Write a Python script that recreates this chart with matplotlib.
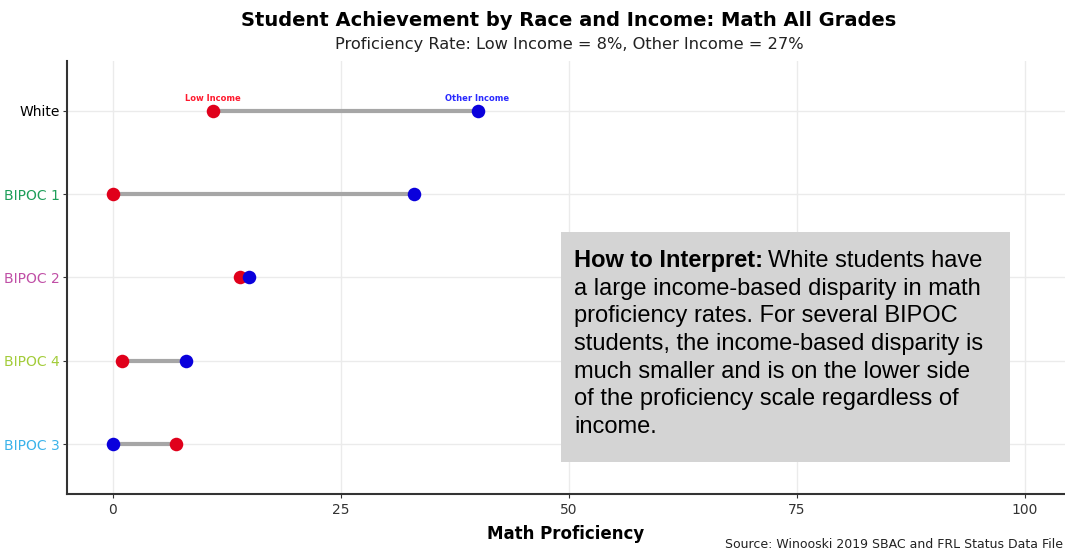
import matplotlib
matplotlib.use("Agg")
import matplotlib.pyplot as plt

categories = ["White", "BIPOC 1", "BIPOC 2", "BIPOC 4", "BIPOC 3"]
low_income = [11, 0, 14, 1, 7]
other_income = [40, 33, 15, 8, 0]
label_colors = ["#000000", "#1e9e5a", "#c04fa6", "#a3cc3a", "#3bb3ea"]
x_ticks = [0, 25, 50, 75, 100]

title = "Student Achievement by Race and Income: Math All Grades"
subtitle = "Proficiency Rate: Low Income = 8%, Other Income = 27%"
xlabel = "Math Proficiency"
source = "Source: Winooski 2019 SBAC and FRL Status Data File"
note_bold = "How to Interpret:"
note_lines = ["White students have",
              "a large income-based disparity in math",
              "proficiency rates. For several BIPOC",
              "students, the income-based disparity is",
              "much smaller and is on the lower side",
              "of the proficiency scale regardless of",
              "income."]

W, H = 1065, 552
fig = plt.figure(figsize=(W / 100, H / 100), dpi=100)
ax = fig.add_axes([67 / W, 1 - 494 / H, (1065 - 67) / W, (494 - 61) / H])

n = len(categories)
ypos = list(range(n, 0, -1))

ax.set_xlim(-5, 104.4)
ax.set_ylim(0.4, n + 0.6)
ax.set_xticks(x_ticks)
ax.set_yticks(ypos)
ax.set_yticklabels(categories)
ax.grid(True, color="#ebebeb", linewidth=1.0)
ax.set_axisbelow(True)
for s in ["top", "right"]:
    ax.spines[s].set_visible(False)
for s in ["left", "bottom"]:
    ax.spines[s].set_color("#333333")
    ax.spines[s].set_linewidth(1.5)
ax.tick_params(axis="both", length=3, color="#333333", labelsize=10, labelcolor="#333333")
ax.tick_params(axis="y", pad=2)
for t, c in zip(ax.get_yticklabels(), label_colors):
    t.set_color(c)

for y, lo, hi in zip(ypos, low_income, other_income):
    ax.plot([lo, hi], [y, y], color="#a6a6a6", linewidth=3, solid_capstyle="butt", zorder=2)
ax.scatter(low_income, ypos, s=95, color="#e0001b", zorder=3, linewidths=0)
ax.scatter(other_income, ypos, s=95, color="#0a00dc", zorder=4, linewidths=0)

ax.annotate("Low Income", (low_income[0], ypos[0]), xytext=(0, 6), textcoords="offset points",
            ha="center", va="bottom", fontsize=6, fontweight="bold", color="#ff1a2e")
ax.annotate("Other Income", (other_income[0], ypos[0]), xytext=(0, 6), textcoords="offset points",
            ha="center", va="bottom", fontsize=6, fontweight="bold", color="#2a2aff")

ax.set_xlabel(xlabel, fontsize=12, fontweight="bold", labelpad=6)

fig.text(569 / W, 1 - 20 / H, title, ha="center", va="center", fontsize=14, fontweight="bold")
fig.text(569 / W, 1 - 45 / H, subtitle, ha="center", va="center", fontsize=11.7, color="#222222")
fig.text(1063 / W, 1 - 544 / H, source, ha="right", va="center", fontsize=9, color="#222222")

# interpretation box
bx0, by0, bx1, by1 = 561, 232, 1010, 462
box = plt.Rectangle((bx0 / W, 1 - by1 / H), (bx1 - bx0) / W, (by1 - by0) / H,
                    transform=fig.transFigure, facecolor="#d4d4d4", edgecolor="none", zorder=5)
fig.patches.append(box)
font = "Liberation Sans"
fs = 17
base0 = 267
step = 27.7
tb = fig.text(574 / W, 1 - base0 / H, note_bold, ha="left", va="baseline", fontsize=fs,
              fontweight="bold", family=font, zorder=6)
fig.canvas.draw()
bb = tb.get_window_extent()
space_px = 5
for i, line in enumerate(note_lines):
    x0 = (bb.x1 + space_px) if i == 0 else 574
    fig.text(x0 / W, 1 - (base0 + i * step) / H, line, ha="left", va="baseline",
             fontsize=fs, family=font, zorder=6)

fig.savefig("out.png", dpi=100)
